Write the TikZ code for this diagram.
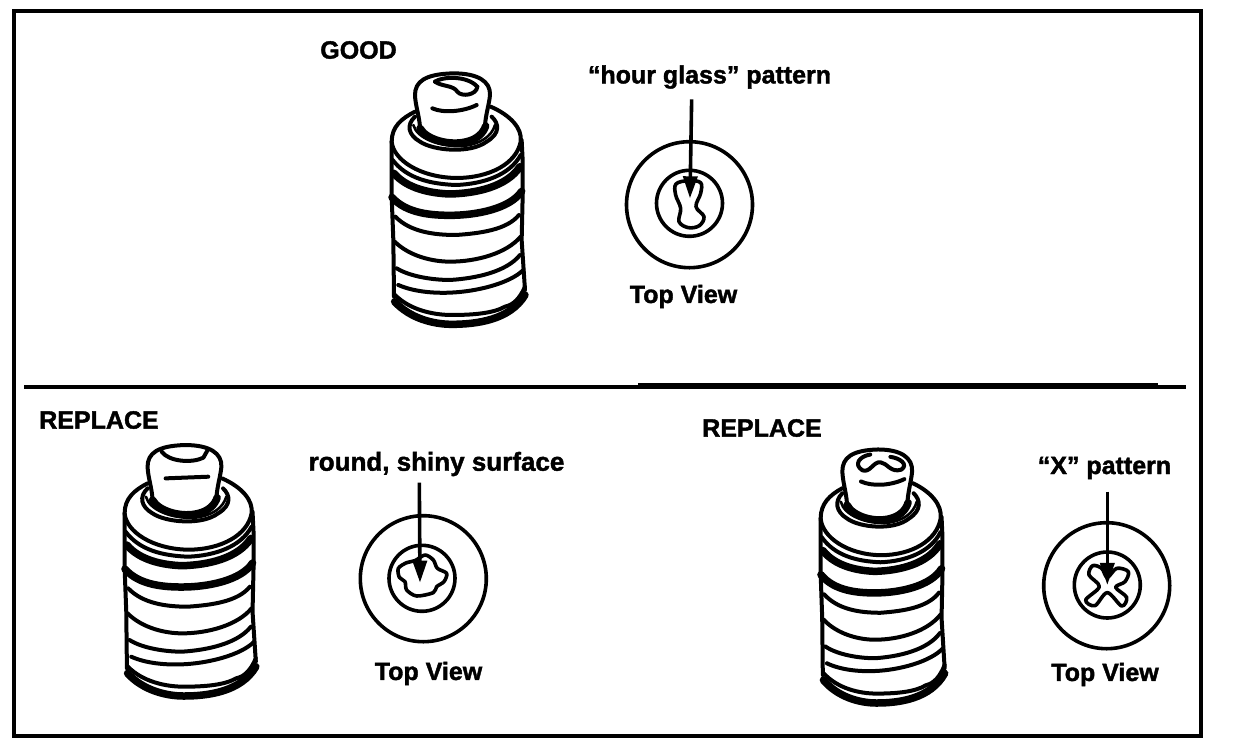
\documentclass[tikz,border=0pt]{standalone}
\usepackage{fontspec}
\setmainfont[BoldFeatures={FakeBold=1.6}]{Liberation Sans}
\usetikzlibrary{arrows.meta}
\tikzset{
  lab/.style={inner sep=0pt,font=\fontsize{25}{28}\selectfont\bfseries,text=black},
  ring/.style={draw=black,line width=3.6pt},
  vl/.style={draw=black,line width=4pt,line cap=round,line join=round},
  vt/.style={draw=black,line width=7.5pt,line cap=round,line join=round},
  vn/.style={draw=black,line width=2.6pt,line cap=round,line join=round},
  pointer/.style={draw=black,line width=3.6pt,-{Triangle[length=22pt,width=14pt]},shorten >=-1pt},
  patt/.style={draw=black,line width=3.6pt,line join=round}
}
% drawn in 3x zoom coordinates of the upper valve
\newcommand{\valvebody}{%
  % cap
  \draw[vl] (150,200) .. controls (147,165) and (136,135) .. (135,105)
     .. controls (135,65) and (165,42) .. (250,40)
     .. controls (325,40) and (362,65) .. (360,105)
     .. controls (358,130) and (348,160) .. (345,195);
  \draw[vt] (150,205) .. controls (170,240) and (240,258) .. (290,245) .. controls (320,238) and (340,220) .. (347,198);
  % collar
  \draw[vl] (135,170) .. controls (108,195) and (115,225) .. (150,245)
     .. controls (190,272) and (300,282) .. (350,245)
     .. controls (392,220) and (387,190) .. (365,170);
  \draw[vn] (130,195) .. controls (140,235) and (210,262) .. (280,258) .. controls (330,252) and (365,230) .. (375,195);
  % top disc
  \draw[vl] (135,155) .. controls (95,175) and (65,200) .. (65,245)
     .. controls (70,300) and (150,352) .. (258,354)
     .. controls (360,354) and (440,310) .. (452,245)
     .. controls (458,205) and (420,165) .. (362,140);
  % sides
  \draw[vl] (65,245) -- (65,300) -- (65,410) -- (70,540) -- (72,710);
  \draw[vl] (455,240) -- (458,300) -- (458,410) -- (455,540) -- (465,690);
  % rings
  \draw[vl] (68,300) .. controls (110,355) and (180,372) .. (258,375) .. controls (340,372) and (420,345) .. (452,285);
  \draw[vt] (72,340) .. controls (110,385) and (180,400) .. (240,402) .. controls (320,400) and (410,380) .. (450,320);
  \draw[vt] (66,412) .. controls (110,462) and (190,466) .. (240,466) .. controls (320,466) and (420,446) .. (455,394);
  \draw[vl] (76,470) .. controls (120,515) and (190,525) .. (258,525) .. controls (330,520) and (410,510) .. (447,465);
  \draw[vl] (74,545) .. controls (120,590) and (190,605) .. (240,605) .. controls (320,605) and (410,580) .. (452,530);
  \draw[vl] (80,625) .. controls (120,650) and (190,660) .. (240,660) .. controls (320,655) and (410,635) .. (450,585);
  \draw[vl] (85,675) .. controls (130,695) and (190,700) .. (240,698) .. controls (320,695) and (420,670) .. (460,630);
  \draw[vl] (75,705) .. controls (120,750) and (190,765) .. (245,765) .. controls (310,765) and (370,760) .. (405,740) .. controls (430,735) and (450,715) .. (465,680);
  \draw[vt] (74,725) .. controls (120,775) and (190,793) .. (245,793) .. controls (320,793) and (420,780) .. (465,705);
}
\begin{document}
\begin{tikzpicture}[x=1pt,y=-1pt]
\useasboundingbox (0,0) rectangle (1248,748);
\fill[white] (0,0) rectangle (1248,748);
% frame and dividers
\draw[black,line width=4pt] (14,11) rectangle (1201,736);
\draw[black,line width=3.5pt] (24,387) -- (1186,387);
\draw[black,line width=2pt] (638,384) -- (1158,384);

% labels
\node[lab] (good) at (358.5,50) {GOOD};
\node[lab] (hourglass) at (709.5,77) {“hour glass” pattern};
\node[lab] (top1) at (683.5,296.5) {Top View};
\node[lab] (rep1) at (99,420) {REPLACE};
\node[lab,font=\fontsize{26}{28}\selectfont\bfseries] (round) at (436.5,464) {round, shiny surface};
\node[lab] (top2) at (428.5,673.5) {Top View};
\node[lab] (rep2) at (762,428) {REPLACE};
\node[lab] (xpat) at (1104.5,468) {“X” pattern};
\node[lab] (top3) at (1105,674.5) {Top View};

% GOOD valve
\begin{scope}[shift={(370,60)},x=0.3333pt,y=-0.3333pt]
  \valvebody
  \draw[vl] (195,65) .. controls (215,80) and (250,75) .. (262,95) .. controls (275,112) and (320,105) .. (322,80);
  \draw[vl] (195,65) .. controls (215,50) and (290,45) .. (322,80);
  \draw[vl] (187,145) .. controls (220,160) and (280,155) .. (320,135);
\end{scope}
% left REPLACE valve
\begin{scope}[shift={(103.3,431.7)},x=0.328pt,y=-0.3333pt]
  \valvebody
  \draw[vl] (178,60) .. controls (200,90) and (270,95) .. (305,78) -- (320,52);
  \draw[vl] (190,140) -- (320,135);
\end{scope}
% right REPLACE valve
\begin{scope}[shift={(800.5,436)},x=0.31pt,y=-0.3367pt]
  \valvebody
  \draw[vl] (225,55) .. controls (190,60) and (170,85) .. (200,102) .. controls (225,110) and (235,75) .. (258,78)
     .. controls (280,80) and (290,110) .. (325,100) .. controls (350,85) and (320,65) .. (290,62);
  \draw[vl] (195,135) .. controls (230,150) and (290,148) .. (335,128);
\end{scope}

% top view: hour glass
\node[ring,circle,minimum size=126pt,inner sep=0pt] (o1) at (689.5,204.7) {};
\node[ring,circle,minimum size=66pt,inner sep=0pt] (i1) at (689.5,203.3) {};
\begin{scope}[shift={(580,60)},x=0.3333pt,y=-0.3333pt]
  \draw[patt] plot[smooth cycle,tension=0.6] coordinates {(325,362) (362,368) (362,400) (348,440) (372,470) (358,497) (325,503) (297,485) (302,445) (287,405) (288,372)};
  \coordinate (a1s) at (335,118);
  \coordinate (a1e) at (330,412);
\end{scope}
\draw[pointer] (a1s) -- (a1e);

% top view: round
\node[ring,circle,minimum size=126pt,inner sep=0pt] (o2) at (423.3,578.7) {};
\node[ring,circle,minimum size=66pt,inner sep=0pt] (i2) at (422,578.3) {};
\begin{scope}[shift={(300,440)},x=0.3333pt,y=-0.3333pt]
  \draw[patt] plot[smooth cycle,tension=0.5] coordinates {(295,385) (320,368) (345,362) (375,345) (400,360) (412,385) (440,400) (432,425) (410,440) (400,458) (350,468) (320,450) (315,425) (298,412)};
  \coordinate (b1s) at (358,128);
  \coordinate (b1e) at (360,425);
\end{scope}
\draw[pointer] (b1s) -- (b1e);

% top view: X
\node[ring,circle,minimum size=126pt,inner sep=0pt] (o3) at (1106.7,585.7) {};
\node[ring,circle,minimum size=66pt,inner sep=0pt] (i3) at (1107.3,585) {};
\begin{scope}[shift={(1020,440)},x=0.3333pt,y=-0.3333pt]
  \draw[patt] plot[smooth cycle,tension=0.55] coordinates {(262,412) (290,385) (325,395) (315,425) (287,442) (320,472) (305,498) (262,458) (225,497) (197,480) (238,440) (207,405) (218,377) (245,385)};
  \coordinate (c1s) at (262,155);
  \coordinate (c1e) at (262,432);
\end{scope}
\draw[pointer] (c1s) -- (c1e);
\end{tikzpicture}
\end{document}
